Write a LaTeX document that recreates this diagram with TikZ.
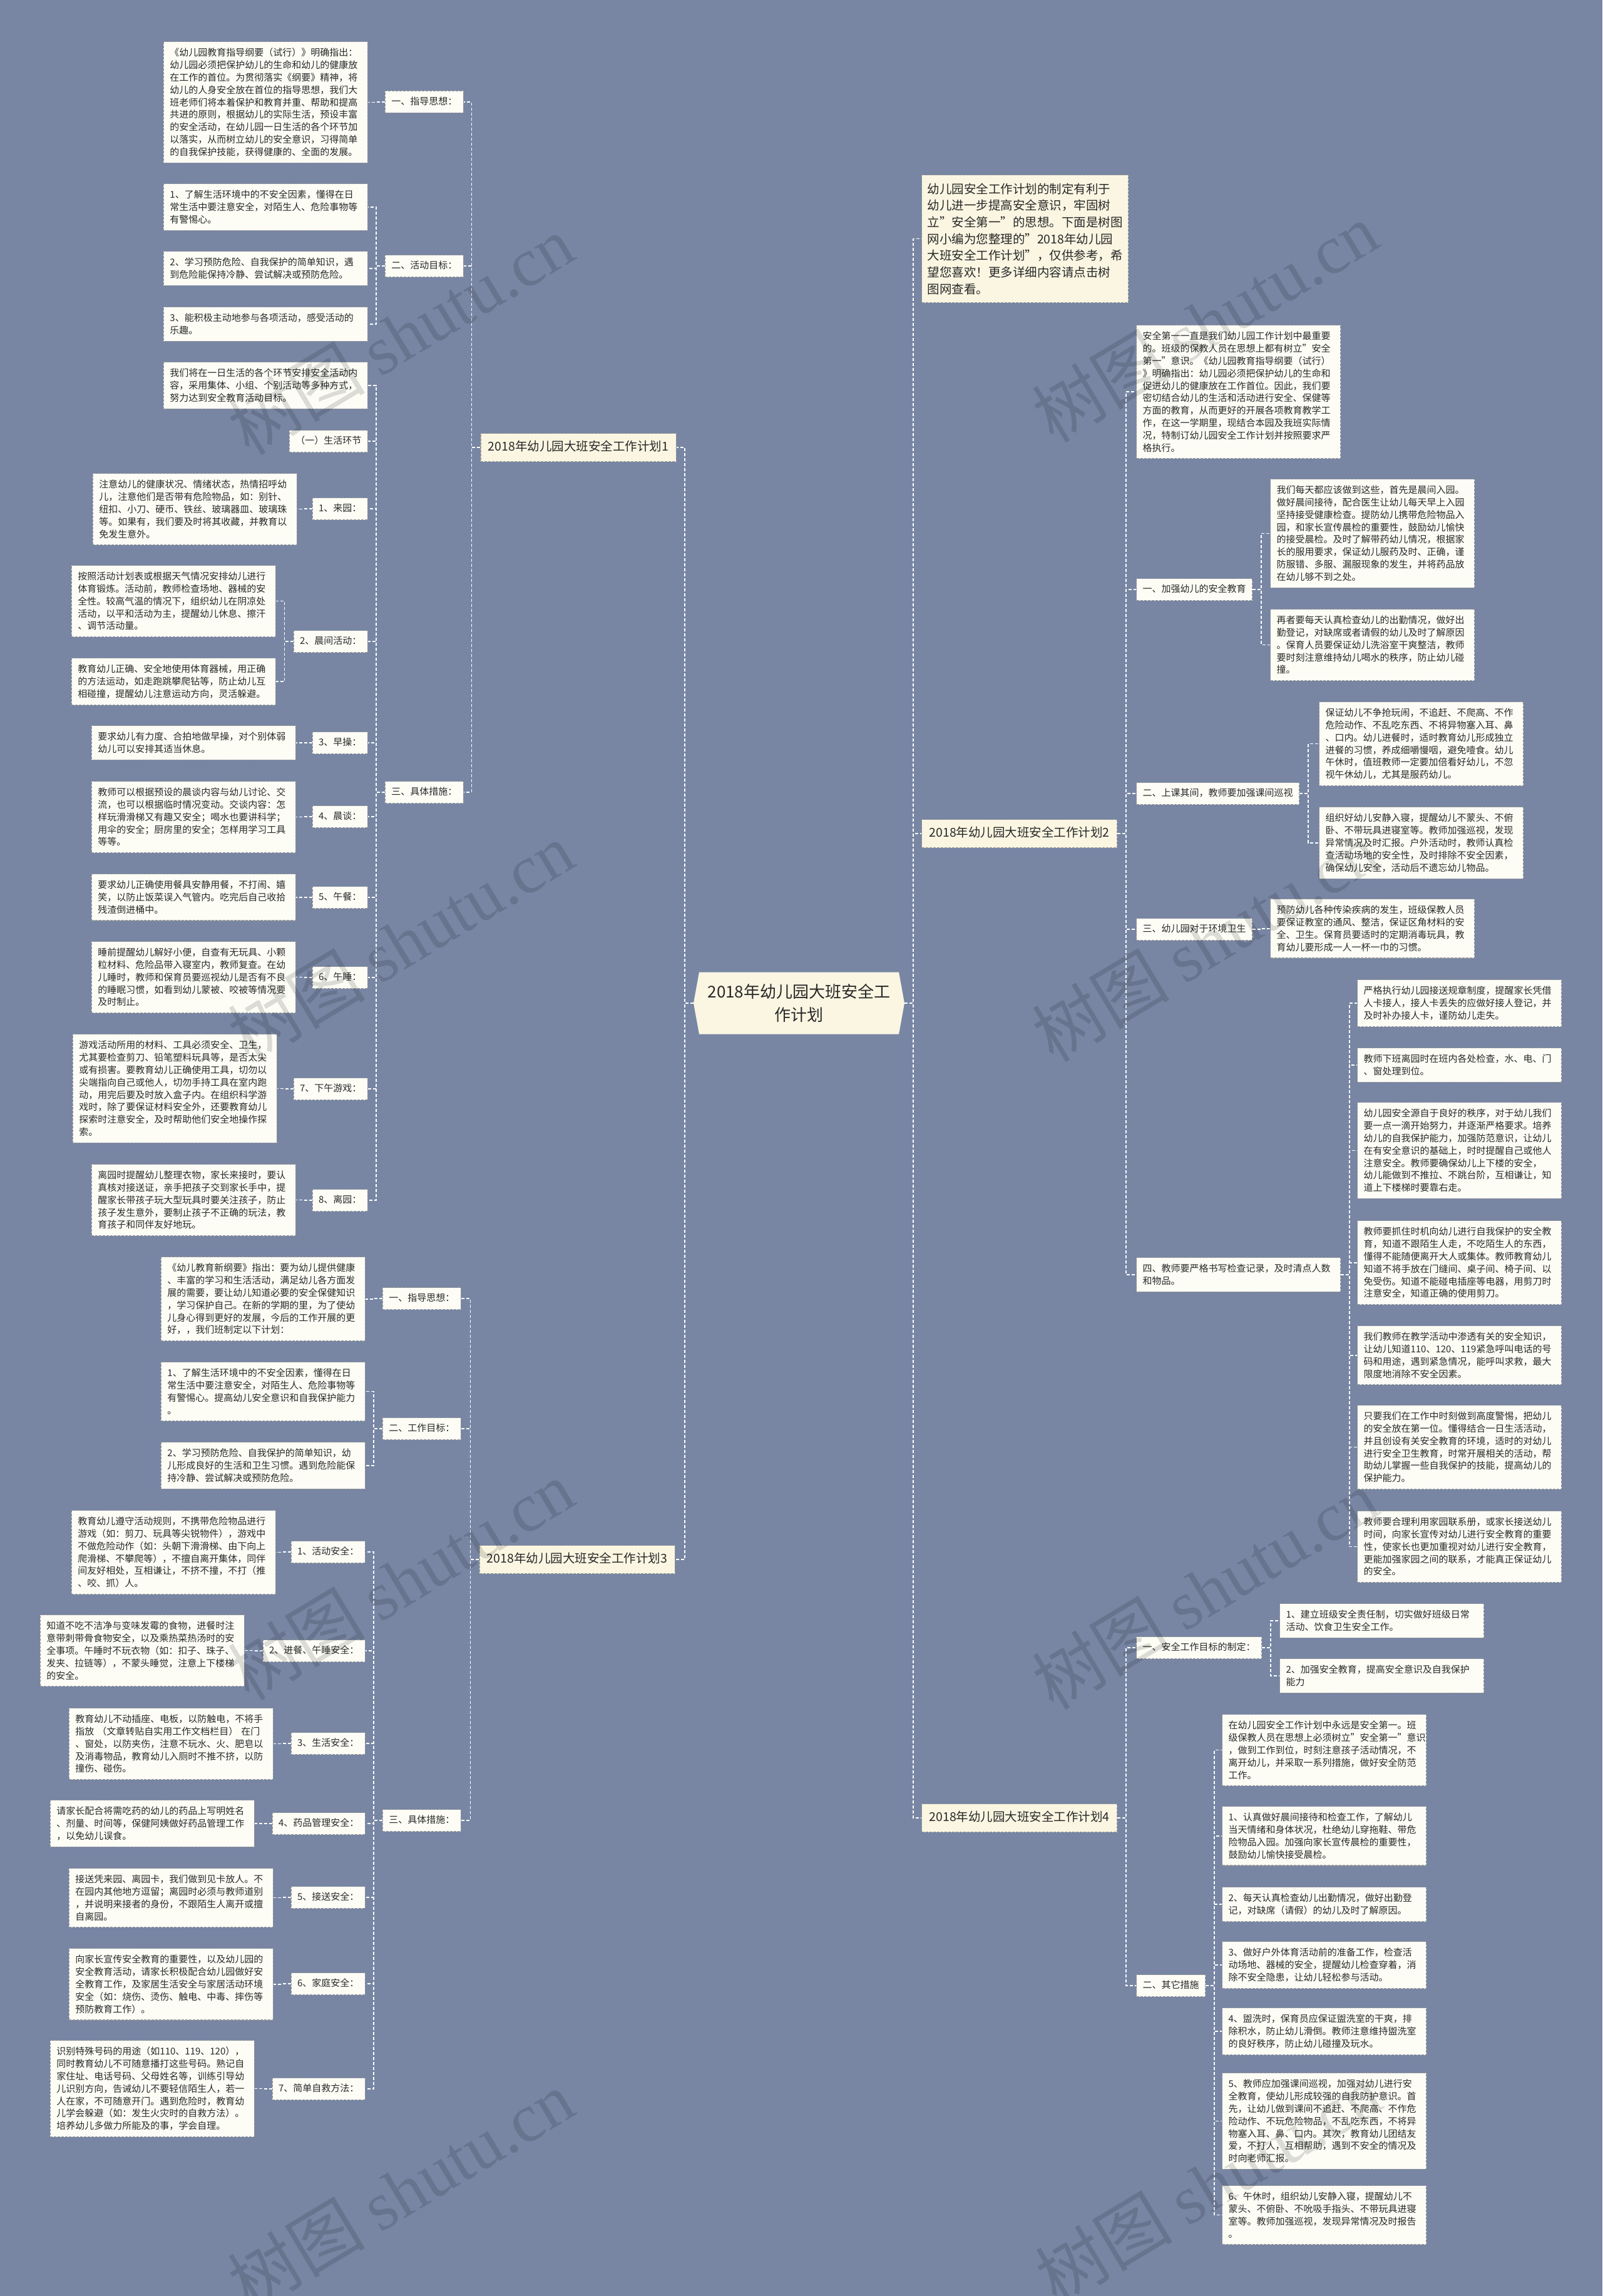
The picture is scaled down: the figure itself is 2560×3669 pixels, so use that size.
\documentclass[tikz,border=0pt]{standalone}
\usepackage{fontspec}
\setmainfont{Noto Sans CJK SC}
\newfontfamily\wmserif{Liberation Serif}
\definecolor{bgc}{RGB}{120,134,164}
\definecolor{leafc}{RGB}{253,253,246}
\definecolor{creamc}{RGB}{250,246,226}
\definecolor{borderc}{RGB}{150,150,150}
\definecolor{txtc}{RGB}{40,40,40}
\newcommand\lconn[2]{\draw[conn] (#1.west) -- ++(-14,0) |- (#2.east);}
\newcommand\rconn[2]{\draw[conn] (#1.east) -- ++(14,0) |- (#2.west);}
\begin{document}
\begin{tikzpicture}[x=1pt,y=-1pt,
  conn/.style={draw=white, line width=1.5pt, dash pattern=on 5pt off 3pt},
  boxline/.style={draw=borderc, line width=1.1pt, dash pattern=on 4pt off 2pt},
  leaf/.style={boxline, fill=leafc, text=txtc, text width=306pt, align=left, inner xsep=10pt, inner ysep=10.5pt, font=\fontsize{15}{19.8}\selectfont},
  lab/.style={boxline, fill=leafc, text=txtc, inner xsep=10pt, inner ysep=10pt, text height=12pt, text depth=3pt, font=\fontsize{15}{18}\selectfont},
  lone/.style={boxline, fill=creamc, text=txtc, inner xsep=12pt, inner ysep=13pt, text height=15pt, text depth=4pt, font=\fontsize{19.5}{24}\selectfont},
  intro/.style={boxline, fill=creamc, text=txtc, text width=312pt, align=left, inner xsep=9pt, inner ysep=13pt, font=\fontsize{19.5}{26.7}\selectfont},
  rootnode/.style={minimum width=337pt, minimum height=99pt, inner sep=0pt, align=center, text=txtc, font=\fontsize{26}{37}\selectfont},
  wm/.style={text=black, text opacity=0.13, inner sep=0pt, font=\fontsize{110}{110}\selectfont}
]
\useasboundingbox (0,0) rectangle (2560,3669);
\fill[bgc] (0,0) rectangle (2560,3669);

% ---------- root ----------
\fill[creamc] (1108,1603) -- (1117,1553.5) -- (1436,1553.5) -- (1445,1603) -- (1436,1652.5) -- (1117,1652.5) -- cycle;
\node[rootnode] (root) at (1276.5,1603) {2018年幼儿园大班安全工\\作计划};

% ---------- plan 1 ----------
\node[lone] (p1) at (924,715) {2018年幼儿园大班安全工作计划1};
\node[lab, anchor=east] (p1a) at (741,163) {一、指导思想：};
\node[lab, anchor=east] (p1b) at (741,425) {二、活动目标：};
\node[lab, anchor=east] (p1c) at (741,1266) {三、具体措施：};

\node[leaf, anchor=north east] (p1a1) at (588,66) {《幼儿园教育指导纲要（试行）》明确指出：\\幼儿园必须把保护幼儿的生命和幼儿的健康放\\在工作的首位。为贯彻落实《纲要》精神，将\\幼儿的人身安全放在首位的指导思想，我们大\\班老师们将本着保护和教育并重、帮助和提高\\共进的原则，根据幼儿的实际生活，预设丰富\\的安全活动，在幼儿园一日生活的各个环节加\\以落实，从而树立幼儿的安全意识，习得简单\\的自我保护技能，获得健康的、全面的发展。};
\node[leaf, anchor=north east] (p1b1) at (588,293) {1、了解生活环境中的不安全因素，懂得在日\\常生活中要注意安全，对陌生人、危险事物等\\有警惕心。};
\node[leaf, anchor=north east] (p1b2) at (588,401) {2、学习预防危险、自我保护的简单知识，遇\\到危险能保持冷静、尝试解决或预防危险。};
\node[leaf, anchor=north east] (p1b3) at (588,490) {3、能积极主动地参与各项活动，感受活动的\\乐趣。};
\node[leaf, anchor=north east] (p1c0) at (588,578) {我们将在一日生活的各个环节安排安全活动内\\容，采用集体、小组、个别活动等多种方式，\\努力达到安全教育活动目标。};
\node[lab, anchor=east] (p1c00) at (588,705) {（一）生活环节};
\node[lab, anchor=east] (s1) at (588,813) {1、来园：};
\node[lab, anchor=east] (s2) at (588,1025) {2、晨间活动：};
\node[lab, anchor=east] (s3) at (588,1187) {3、早操：};
\node[lab, anchor=east] (s4) at (588,1305) {4、晨谈：};
\node[lab, anchor=east] (s5) at (588,1434) {5、午餐：};
\node[lab, anchor=east] (s6) at (588,1562) {6、午睡：};
\node[lab, anchor=east] (s7) at (588,1740) {7、下午游戏：};
\node[lab, anchor=east] (s8) at (588,1918) {8、离园：};

\node[leaf, anchor=north east] (s1a) at (475,756) {注意幼儿的健康状况、情绪状态，热情招呼幼\\儿，注意他们是否带有危险物品，如：别针、\\纽扣、小刀、硬币、铁丝、玻璃器皿、玻璃珠\\等。如果有，我们要及时将其收藏，并教育以\\免发生意外。};
\node[leaf, anchor=north east] (s2a) at (441,903) {按照活动计划表或根据天气情况安排幼儿进行\\体育锻炼。活动前，教师检查场地、器械的安\\全性。较高气温的情况下，组织幼儿在阴凉处\\活动，以平和活动为主，提醒幼儿休息、擦汗\\、调节活动量。};
\node[leaf, anchor=north east] (s2b) at (441,1051) {教育幼儿正确、安全地使用体育器械，用正确\\的方法运动，如走跑跳攀爬钻等，防止幼儿互\\相碰撞，提醒幼儿注意运动方向，灵活躲避。};
\node[leaf, anchor=north east] (s3a) at (473,1159) {要求幼儿有力度、合拍地做早操，对个别体弱\\幼儿可以安排其适当休息。};
\node[leaf, anchor=north east] (s4a) at (473,1248) {教师可以根据预设的晨谈内容与幼儿讨论、交\\流，也可以根据临时情况变动。交谈内容：怎\\样玩滑滑梯又有趣又安全；喝水也要讲科学；\\用伞的安全；厨房里的安全；怎样用学习工具\\等等。};
\node[leaf, anchor=north east] (s5a) at (473,1396) {要求幼儿正确使用餐具安静用餐，不打闹、嬉\\笑，以防止饭菜误入气管内。吃完后自己收拾\\残渣倒进桶中。};
\node[leaf, anchor=north east] (s6a) at (473,1504) {睡前提醒幼儿解好小便，自查有无玩具、小颗\\粒材料、危险品带入寝室内，教师复查。在幼\\儿睡时，教师和保育员要巡视幼儿是否有不良\\的睡眠习惯，如看到幼儿蒙被、咬被等情况要\\及时制止。};
\node[leaf, anchor=north east] (s7a) at (443,1652) {游戏活动所用的材料、工具必须安全、卫生，\\尤其要检查剪刀、铅笔塑料玩具等，是否太尖\\或有损害。要教育幼儿正确使用工具，切勿以\\尖端指向自己或他人，切勿手持工具在室内跑\\动，用完后要及时放入盒子内。在组织科学游\\戏时，除了要保证材料安全外，还要教育幼儿\\探索时注意安全，及时帮助他们安全地操作探\\索。};
\node[leaf, anchor=north east] (s8a) at (473,1860) {离园时提醒幼儿整理衣物，家长来接时，要认\\真核对接送证，亲手把孩子交到家长手中，提\\醒家长带孩子玩大型玩具时要关注孩子，防止\\孩子发生意外，要制止孩子不正确的玩法，教\\育孩子和同伴友好地玩。};

% ---------- plan 3 ----------
\node[lone] (p3) at (922,2492) {2018年幼儿园大班安全工作计划3};
\node[lab, anchor=east] (p3a) at (737,2075) {一、指导思想：};
\node[lab, anchor=east] (p3b) at (737,2283) {二、工作目标：};
\node[lab, anchor=east] (p3c) at (737,2909) {三、具体措施：};
\node[leaf, anchor=north east] (p3a1) at (584,2008) {《幼儿教育新纲要》指出：要为幼儿提供健康\\、丰富的学习和生活活动，满足幼儿各方面发\\展的需要，要让幼儿知道必要的安全保健知识\\，学习保护自己。在新的学期的里，为了使幼\\儿身心得到更好的发展，今后的工作开展的更\\好，，我们班制定以下计划：};
\node[leaf, anchor=north east] (p3b1) at (584,2176) {1、了解生活环境中的不安全因素，懂得在日\\常生活中要注意安全，对陌生人、危险事物等\\有警惕心。提高幼儿安全意识和自我保护能力\\。};
\node[leaf, anchor=north east] (p3b2) at (584,2304) {2、学习预防危险、自我保护的简单知识，幼\\儿形成良好的生活和卫生习惯。遇到危险能保\\持冷静、尝试解决或预防危险。};
\node[lab, anchor=east] (t1) at (584,2480) {1、活动安全：};
\node[lab, anchor=east] (t2) at (584,2638) {2、进餐、午睡安全：};
\node[lab, anchor=east] (t3) at (584,2786) {3、生活安全：};
\node[lab, anchor=east] (t4) at (584,2914) {4、药品管理安全：};
\node[lab, anchor=east] (t5) at (584,3032) {5、接送安全：};
\node[lab, anchor=east] (t6) at (584,3170) {6、家庭安全：};
\node[lab, anchor=east] (t7) at (584,3338) {7、简单自救方法：};
\node[leaf, anchor=north east] (t1a) at (441,2413) {教育幼儿遵守活动规则，不携带危险物品进行\\游戏（如：剪刀、玩具等尖锐物件），游戏中\\不做危险动作（如：头朝下滑滑梯、由下向上\\爬滑梯、不攀爬等），不擅自离开集体，同伴\\间友好相处，互相谦让，不挤不撞，不打（推\\、咬、抓）人。};
\node[leaf, anchor=north east] (t2a) at (391,2580) {知道不吃不洁净与变味发霉的食物，进餐时注\\意带刺带骨食物安全，以及乘热菜热汤时的安\\全事项。午睡时不玩衣物（如：扣子、珠子、\\发夹、拉链等），不蒙头睡觉，注意上下楼梯\\的安全。};
\node[leaf, anchor=north east] (t3a) at (437,2729) {教育幼儿不动插座、电板，以防触电，不将手\\指放 （文章转贴自实用工作文档栏目） 在门\\、窗处，以防夹伤，注意不玩水、火、肥皂以\\及消毒物品，教育幼儿入厕时不推不挤，以防\\撞伤、碰伤。};
\node[leaf, anchor=north east] (t4a) at (407,2876) {请家长配合将需吃药的幼儿的药品上写明姓名\\、剂量、时间等，保健阿姨做好药品管理工作\\，以免幼儿误食。};
\node[leaf, anchor=north east] (t5a) at (437,2985) {接送凭来园、离园卡，我们做到见卡放人。不\\在园内其他地方逗留；离园时必须与教师道别\\，并说明来接者的身份，不跟陌生人离开或擅\\自离园。};
\node[leaf, anchor=north east] (t6a) at (437,3113) {向家长宣传安全教育的重要性，以及幼儿园的\\安全教育活动，请家长积极配合幼儿园做好安\\全教育工作，及家居生活安全与家居活动环境\\安全（如：烧伤、烫伤、触电、中毒、摔伤等\\预防教育工作）。};
\node[leaf, anchor=north east] (t7a) at (407,3260) {识别特殊号码的用途（如110、119、120），\\同时教育幼儿不可随意播打这些号码。熟记自\\家住址、电话号码、父母姓名等，训练引导幼\\儿识别方向，告诫幼儿不要轻信陌生人，若一\\人在家，不可随意开门。遇到危险时，教育幼\\儿学会躲避（如：发生火灾时的自救方法）。\\培养幼儿多做力所能及的事，学会自理。};

% ---------- right: intro ----------
\node[intro, anchor=north west] (intro) at (1472,279) {幼儿园安全工作计划的制定有利于\\幼儿进一步提高安全意识，牢固树\\立"安全第一"的思想。下面是树图\\网小编为您整理的"2018年幼儿园\\大班安全工作计划"，仅供参考，希\\望您喜欢！更多详细内容请点击树\\图网查看。};

% ---------- plan 2 ----------
\node[lone, anchor=west] (p2) at (1472,1332) {2018年幼儿园大班安全工作计划2};
\node[leaf, anchor=north west] (q0) at (1815,519) {安全第一一直是我们幼儿园工作计划中最重要\\的。班级的保教人员在思想上都有树立"安全\\第一"意识。《幼儿园教育指导纲要（试行）\\》明确指出：幼儿园必须把保护幼儿的生命和\\促进幼儿的健康放在工作首位。因此，我们要\\密切结合幼儿的生活和活动进行安全、保健等\\方面的教育，从而更好的开展各项教育教学工\\作，在这一学期里，现结合本园及我班实际情\\况，特制订幼儿园安全工作计划并按照要求严\\格执行。};
\node[lab, anchor=west] (q1) at (1815,942) {一、加强幼儿的安全教育};
\node[lab, anchor=west] (q2) at (1815,1268) {二、上课其间，教师要加强课间巡视};
\node[lab, anchor=west] (q3) at (1815,1485) {三、幼儿园对于环境卫生};
\node[leaf, anchor=north west] (q4) at (1815,2009) {四、教师要严格书写检查记录，及时清点人数\\和物品。};
\node[leaf, anchor=north west] (q1a) at (2029,765) {我们每天都应该做到这些，首先是晨间入园。\\做好晨间接待，配合医生让幼儿每天早上入园\\坚持接受健康检查。提防幼儿携带危险物品入\\园，和家长宣传晨检的重要性，鼓励幼儿愉快\\的接受晨检。及时了解带药幼儿情况，根据家\\长的服用要求，保证幼儿服药及时、正确，谨\\防服错、多服、漏服现象的发生，并将药品放\\在幼儿够不到之处。};
\node[leaf, anchor=north west] (q1b) at (2029,973) {再者要每天认真检查幼儿的出勤情况，做好出\\勤登记，对缺席或者请假的幼儿及时了解原因\\。保育人员要保证幼儿洗浴室干爽整洁，教师\\要时刻注意维持幼儿喝水的秩序，防止幼儿碰\\撞。};
\node[leaf, anchor=north west] (q2a) at (2107,1121) {保证幼儿不争抢玩闹，不追赶、不爬高、不作\\危险动作、不乱吃东西、不将异物塞入耳、鼻\\、口内。幼儿进餐时，适时教育幼儿形成独立\\进餐的习惯，养成细嚼慢咽，避免噎食。幼儿\\午休时，值班教师一定要加倍看好幼儿，不忽\\视午休幼儿，尤其是服药幼儿。};
\node[leaf, anchor=north west] (q2b) at (2107,1289) {组织好幼儿安静入寝，提醒幼儿不蒙头、不俯\\卧、不带玩具进寝室等。教师加强巡视，发现\\异常情况及时汇报。户外活动时，教师认真检\\查活动场地的安全性，及时排除不安全因素，\\确保幼儿安全，活动后不遗忘幼儿物品。};
\node[leaf, anchor=north west] (q3a) at (2029,1436) {预防幼儿各种传染疾病的发生，班级保教人员\\要保证教室的通风、整洁，保证区角材料的安\\全、卫生。保育员要适时的定期消毒玩具，教\\育幼儿要形成一人一杯一巾的习惯。};
\node[leaf, anchor=north west] (q4a) at (2168,1565) {严格执行幼儿园接送规章制度，提醒家长凭借\\人卡接人，接人卡丢失的应做好接人登记，并\\及时补办接人卡，谨防幼儿走失。};
\node[leaf, anchor=north west] (q4b) at (2168,1674) {教师下班离园时在班内各处检查，水、电、门\\、窗处理到位。};
\node[leaf, anchor=north west] (q4c) at (2168,1761) {幼儿园安全源自于良好的秩序，对于幼儿我们\\要一点一滴开始努力，并逐渐严格要求。培养\\幼儿的自我保护能力，加强防范意识，让幼儿\\在有安全意识的基础上，时时提醒自己或他人\\注意安全。教师要确保幼儿上下楼的安全，\\幼儿能做到不推拉、不跳台阶，互相谦让，知\\道上下楼梯时要靠右走。};
\node[leaf, anchor=north west] (q4d) at (2168,1950) {教师要抓住时机向幼儿进行自我保护的安全教\\育，知道不跟陌生人走，不吃陌生人的东西，\\懂得不能随便离开大人或集体。教师教育幼儿\\知道不将手放在门缝间、桌子间、椅子间、以\\免受伤。知道不能碰电插座等电器，用剪刀时\\注意安全，知道正确的使用剪刀。};
\node[leaf, anchor=north west] (q4e) at (2168,2118) {我们教师在教学活动中渗透有关的安全知识，\\让幼儿知道110、120、119紧急呼叫电话的号\\码和用途，遇到紧急情况，能呼叫求救，最大\\限度地消除不安全因素。};
\node[leaf, anchor=north west] (q4f) at (2168,2245) {只要我们在工作中时刻做到高度警惕，把幼儿\\的安全放在第一位。懂得结合一日生活活动，\\并且创设有关安全教育的环境，适时的对幼儿\\进行安全卫生教育，时常开展相关的活动，帮\\助幼儿掌握一些自我保护的技能，提高幼儿的\\保护能力。};
\node[leaf, anchor=north west] (q4g) at (2168,2414) {教师要合理利用家园联系册，或家长接送幼儿\\时间，向家长宣传对幼儿进行安全教育的重要\\性，使家长也更加重视对幼儿进行安全教育，\\更能加强家园之间的联系，才能真正保证幼儿\\的安全。};

% ---------- plan 4 ----------
\node[lone, anchor=west] (p4) at (1472,2905) {2018年幼儿园大班安全工作计划4};
\node[lab, anchor=west] (r1) at (1815,2633) {一、安全工作目标的制定：};
\node[lab, anchor=west] (r2) at (1815,3173) {二、其它措施};
\node[leaf, anchor=north west] (r1a) at (2044,2562) {1、建立班级安全责任制，切实做好班级日常\\活动、饮食卫生安全工作。};
\node[leaf, anchor=north west] (r1b) at (2044,2650) {2、加强安全教育，提高安全意识及自我保护\\能力};
\node[leaf, anchor=north west] (r2a) at (1952,2739) {在幼儿园安全工作计划中永远是安全第一。班\\级保教人员在思想上必须树立"安全第一"意识\\，做到工作到位，时刻注意孩子活动情况，不\\离开幼儿，并采取一系列措施，做好安全防范\\工作。};
\node[leaf, anchor=north west] (r2b) at (1952,2886) {1、认真做好晨间接待和检查工作，了解幼儿\\当天情绪和身体状况，杜绝幼儿穿拖鞋、带危\\险物品入园。加强向家长宣传晨检的重要性，\\鼓励幼儿愉快接受晨检。};
\node[leaf, anchor=north west] (r2c) at (1952,3015) {2、每天认真检查幼儿出勤情况，做好出勤登\\记，对缺席（请假）的幼儿及时了解原因。};
\node[leaf, anchor=north west] (r2d) at (1952,3102) {3、做好户外体育活动前的准备工作，检查活\\动场地、器械的安全，提醒幼儿检查穿着，消\\除不安全隐患，让幼儿轻松参与活动。};
\node[leaf, anchor=north west] (r2e) at (1952,3208) {4、盥洗时，保育员应保证盥洗室的干爽，排\\除积水，防止幼儿滑倒。教师注意维持盥洗室\\的良好秩序，防止幼儿碰撞及玩水。};
\node[leaf, anchor=north west] (r2f) at (1952,3312) {5、教师应加强课间巡视，加强对幼儿进行安\\全教育，使幼儿形成较强的自我防护意识。首\\先，让幼儿做到课间不追赶、不爬高、不作危\\险动作、不玩危险物品，不乱吃东西，不将异\\物塞入耳、鼻、口内。其次，教育幼儿团结友\\爱，不打人，互相帮助，遇到不安全的情况及\\时向老师汇报。};
\node[leaf, anchor=north west] (r2g) at (1952,3492) {6、午休时，组织幼儿安静入寝，提醒幼儿不\\蒙头、不俯卧、不吮吸手指头、不带玩具进寝\\室等。教师加强巡视，发现异常情况及时报告\\。};

% ---------- connectors ----------
\lconn{root}{p1} \lconn{root}{p3}
\rconn{root}{intro} \rconn{root}{p2} \rconn{root}{p4}
\lconn{p1}{p1a} \lconn{p1}{p1b} \lconn{p1}{p1c}
\lconn{p1a}{p1a1}
\lconn{p1b}{p1b1} \lconn{p1b}{p1b2} \lconn{p1b}{p1b3}
\lconn{p1c}{p1c0} \lconn{p1c}{p1c00}
\foreach \n in {s1,s2,s3,s4,s5,s6,s7,s8} {\lconn{p1c}{\n}}
\lconn{s1}{s1a} \lconn{s2}{s2a} \lconn{s2}{s2b} \lconn{s3}{s3a} \lconn{s4}{s4a}
\lconn{s5}{s5a} \lconn{s6}{s6a} \lconn{s7}{s7a} \lconn{s8}{s8a}
\lconn{p3}{p3a} \lconn{p3}{p3b} \lconn{p3}{p3c}
\lconn{p3a}{p3a1} \lconn{p3b}{p3b1} \lconn{p3b}{p3b2}
\foreach \n in {t1,t2,t3,t4,t5,t6,t7} {\lconn{p3c}{\n} \lconn{\n}{\n a}}
\rconn{p2}{q0} \rconn{p2}{q1} \rconn{p2}{q2} \rconn{p2}{q3} \rconn{p2}{q4}
\rconn{q1}{q1a} \rconn{q1}{q1b} \rconn{q2}{q2a} \rconn{q2}{q2b} \rconn{q3}{q3a}
\foreach \n in {q4a,q4b,q4c,q4d,q4e,q4f,q4g} {\rconn{q4}{\n}}
\rconn{p4}{r1} \rconn{p4}{r2}
\rconn{r1}{r1a} \rconn{r1}{r1b}
\foreach \n in {r2a,r2b,r2c,r2d,r2e,r2f,r2g} {\rconn{r2}{\n}}

% ---------- watermarks ----------
\foreach \wx/\wy [count=\i] in {640/535,640/1505,640/2525,640/3500,1925/515,1925/1505,1925/2540,1930/3490} {
  \node[wm, rotate=31] (wm\i) at (\wx,\wy) {树图 {\wmserif shutu.cn}};
}
\end{tikzpicture}
\end{document}
